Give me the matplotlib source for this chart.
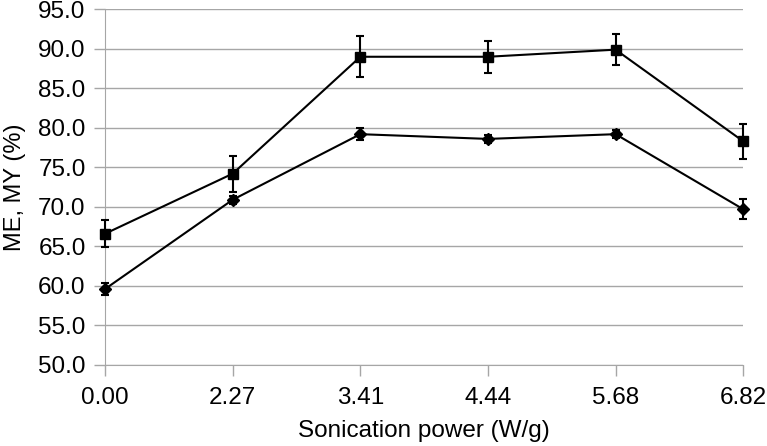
import matplotlib.pyplot as plt
import numpy as np

plt.rcParams['font.family'] = ['Liberation Sans', 'DejaVu Sans']

# Sonication power categories (evenly spaced on the axis)
power_labels = ["0.00", "2.27", "3.41", "4.44", "5.68", "6.82"]

# Square series
square_vals = [66.6, 74.2, 89.0, 89.0, 89.9, 78.3]
square_err = [1.7, 2.3, 2.6, 2.0, 2.0, 2.2]

# Diamond series
diamond_vals = [59.6, 70.9, 79.2, 78.6, 79.2, 69.7]
diamond_err = [0.7, 0.5, 0.8, 0.5, 0.5, 1.3]

x = np.arange(len(power_labels))
grid_col = "#a6a6a6"

fig = plt.figure(figsize=(7.67, 4.46), dpi=100)
ax = fig.add_axes([0.137, 0.182, 0.832, 0.797])

for vals, err, mk, ms in [(square_vals, square_err, "s", 7), (diamond_vals, diamond_err, "D", 6)]:
    _, caps, bars = ax.errorbar(x, vals, yerr=err, color="black", marker=mk, markersize=ms,
                                linewidth=1.5, elinewidth=1.5, capsize=3.2, capthick=1.5,
                                zorder=3, clip_on=False)
    for c in caps:
        c.set_clip_on(False)
    for b in bars:
        b.set_clip_on(False)

ax.set_xlim(0, len(power_labels) - 1)
ax.set_ylim(50, 95)
ax.set_yticks(np.arange(50, 95.1, 5))
ax.set_yticklabels([f"{v:.1f}" for v in np.arange(50, 95.1, 5)])
ax.set_xticks(x)
ax.set_xticklabels(power_labels)

ax.yaxis.grid(True, color=grid_col, linewidth=1)
ax.set_axisbelow(True)
for side in ["top", "right"]:
    ax.spines[side].set_visible(False)
ax.spines["left"].set_color(grid_col)
ax.spines["bottom"].set_color(grid_col)
ax.tick_params(axis="both", colors=grid_col, labelcolor="black", labelsize=17.5, length=8, width=1)
ax.tick_params(axis="x", pad=8)
ax.tick_params(axis="y", pad=6)

ax.set_xlabel("Sonication power (W/g)", fontsize=17.5, labelpad=8)
ax.set_ylabel("ME, MY (%)", fontsize=17, labelpad=9)

fig.savefig("out.png", dpi=100)
